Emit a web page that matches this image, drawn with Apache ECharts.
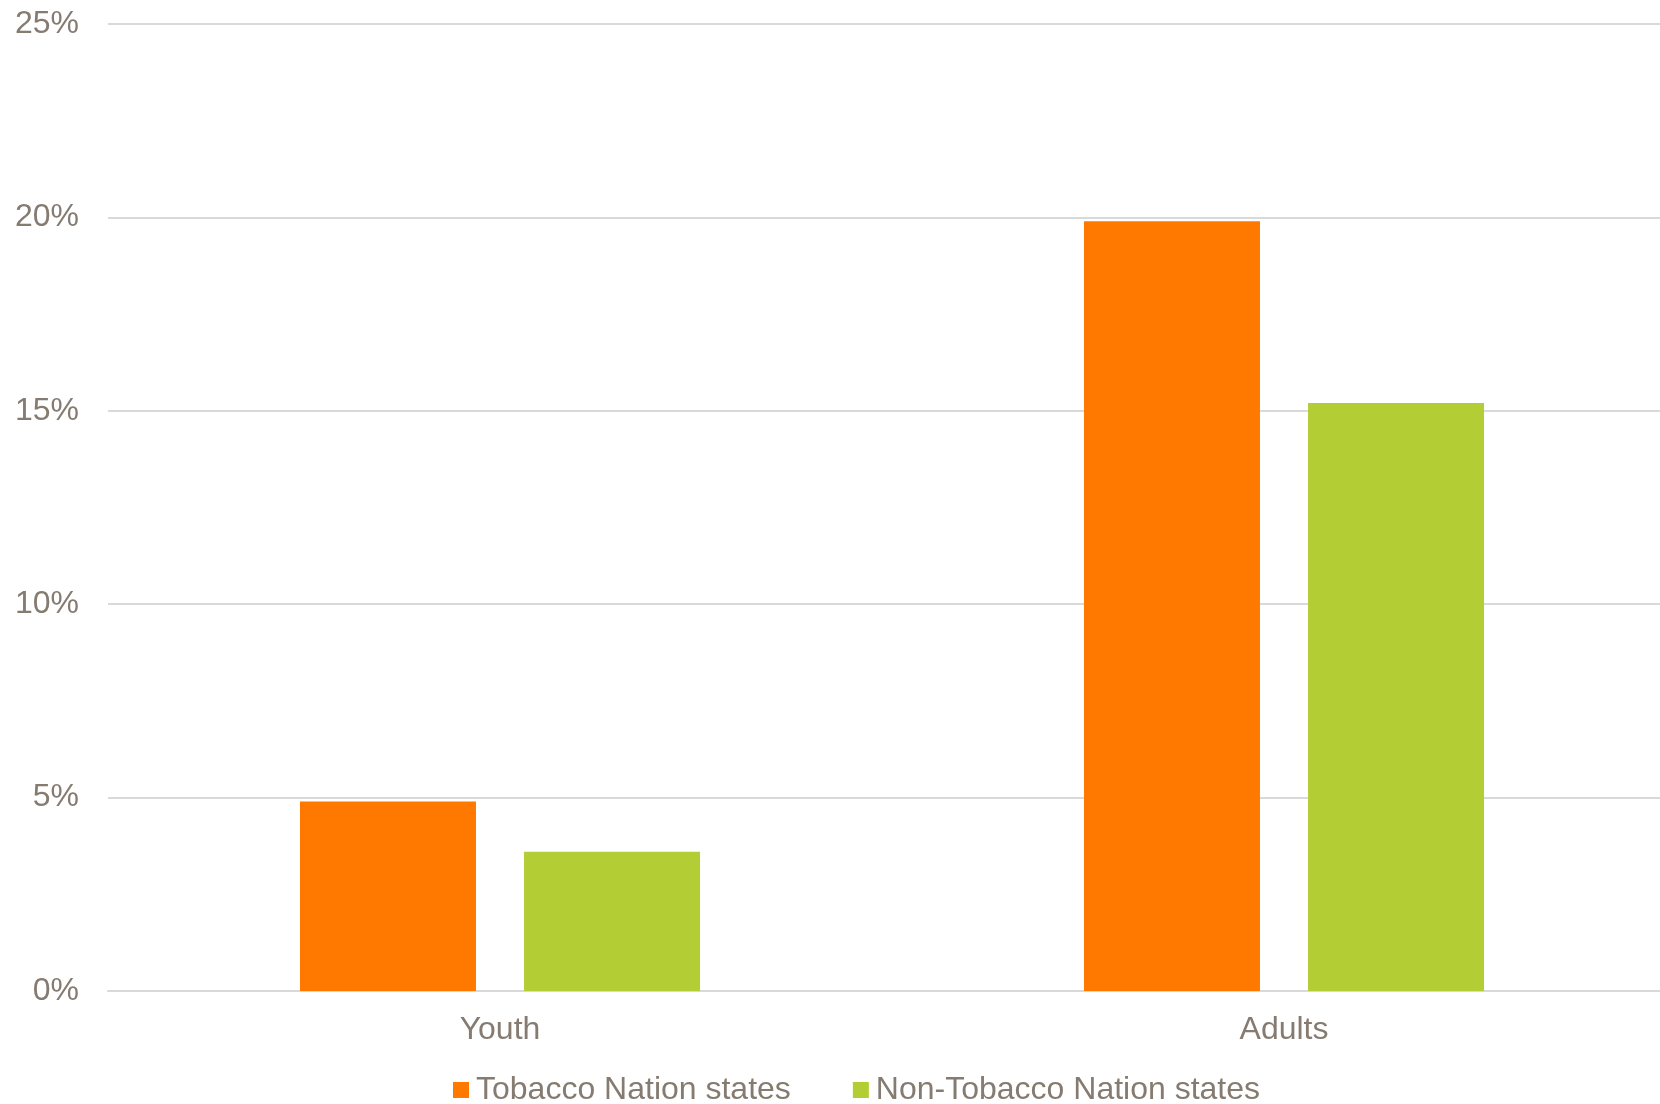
<!DOCTYPE html>
<html>
<head>
<meta charset="utf-8">
<script src="https://cdn.jsdelivr.net/npm/echarts@6/dist/echarts.min.js"></script>
<style>
html,body{margin:0;padding:0;background:#fff;overflow:hidden;width:1660px;height:1104px;}
#c{width:1676px;height:1104px;}
</style>
</head>
<body>
<div id="c"></div>
<script>
const categories = ['Youth', 'Adults'];
const tobaccoNation = [4.9, 19.9];
const nonTobaccoNation = [3.6, 15.2];
const seriesNames = ['Tobacco Nation states', 'Non-Tobacco Nation states'];

const textColor = '#857B71';
const fontFamily = '"Liberation Sans", Arial, sans-serif';
const chart = echarts.init(document.getElementById('c'));
chart.setOption({
  animation: false,
  backgroundColor: '#ffffff',
  grid: { left: 108, top: 24, bottom: 113, right: 0, containLabel: false },
  legend: {
    left: 448, top: 1069,
    itemWidth: 16, itemHeight: 16, itemGap: 62,
    icon: 'rect',
    textStyle: { color: textColor, fontSize: 32, fontFamily: fontFamily, padding: [0,0,0,2] },
    data: seriesNames
  },
  xAxis: {
    type: 'category',
    data: categories,
    axisLine: { show: true, lineStyle: { color: '#D9D9D9', width: 2 } },
    axisTick: { show: false },
    axisLabel: { color: textColor, fontSize: 32, fontFamily: fontFamily, margin: 23 }
  },
  yAxis: {
    type: 'value', min: 0, max: 25, interval: 5,
    axisLine: { show: false }, axisTick: { show: false },
    splitLine: { lineStyle: { color: '#D9D9D9', width: 2 } },
    axisLabel: { color: textColor, fontSize: 32, fontFamily: fontFamily, margin: 29, formatter: '{value}%' }
  },
  series: [
    { name: seriesNames[0], type: 'bar', data: tobaccoNation, barWidth: 176, barGap: '27.3%', itemStyle: { color: '#FF7900' } },
    { name: seriesNames[1], type: 'bar', data: nonTobaccoNation, barWidth: 176, itemStyle: { color: '#B3CE35' } }
  ]
});
</script>
</body>
</html>
